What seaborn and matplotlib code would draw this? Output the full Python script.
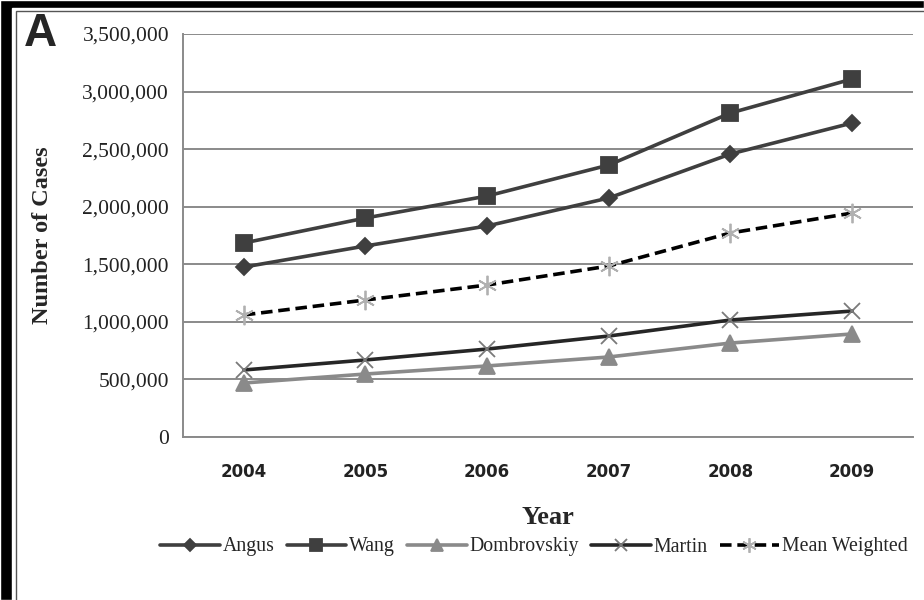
import numpy as np
import pandas as pd
import seaborn as sns
import matplotlib.pyplot as plt
from matplotlib.patches import Rectangle
from matplotlib.ticker import FuncFormatter

years = ["2004", "2005", "2006", "2007", "2008", "2009"]
angus = [1476000, 1659000, 1833000, 2076000, 2458000, 2727000]
wang = [1685000, 1902000, 2093000, 2362000, 2814000, 3109000]
dombrovskiy = [469000, 547000, 617000, 695000, 816000, 895000]
martin = [582000, 669000, 764000, 877000, 1016000, 1094000]
mean_weighted = [1060000, 1190000, 1320000, 1485000, 1772000, 1945000]

sns.set_style("white")
plt.rcParams["font.family"] = ["Liberation Serif", "DejaVu Serif"]

fig = plt.figure(figsize=(9.24, 6), dpi=100)

# black frame with a thin double line, like the scanned figure
fig.patches.append(Rectangle((0, 0), 1, 1, transform=fig.transFigure,
                             facecolor="black", zorder=-3))
fig.patches.append(Rectangle((12 / 924, 0), 1, 1 - 8 / 600, transform=fig.transFigure,
                             facecolor="white", zorder=-2))
fig.patches.append(Rectangle((15.5 / 924, -0.1), 1, 1 - 11 / 600 + 0.1,
                             transform=fig.transFigure, facecolor="none",
                             edgecolor="#555555", linewidth=1.0, zorder=-1))

ax = fig.add_axes([183 / 924, 1 - 437 / 600, (913 - 183) / 924, (437 - 34) / 600])
ax.set_facecolor("none")

series = [
    ("Angus", angus, "#3f3f3f", "D", 8, "-", "#3f3f3f"),
    ("Wang", wang, "#3f3f3f", "s", 11, "-", "#3f3f3f"),
    ("Dombrovskiy", dombrovskiy, "#8a8a8a", "^", 11, "-", "#8a8a8a"),
    ("Martin", martin, "#262626", "x", 12, "-", "#7a7a7a"),
    ("Mean Weighted", mean_weighted, "black", (6, 2, 0), 14, (0, (3.2, 1.6)), "#b0b0b0"),
]
for name, vals, col, mk, ms, ls, mcol in series:
    df = pd.DataFrame({"Year": years, "Cases": vals})
    sns.lineplot(data=df, x="Year", y="Cases", ax=ax, color=col, linewidth=2.6,
                 linestyle=ls, marker=mk, markersize=ms, markeredgecolor=mcol,
                 markerfacecolor=mcol, markeredgewidth=1.3, label=name)

ax.set_xlim(-0.5, len(years) - 0.5)
ax.set_ylim(0, 3500000)
ax.set_yticks(np.arange(0, 3500001, 500000))
ax.yaxis.set_major_formatter(FuncFormatter(lambda v, p: f"{int(v):,}"))
ax.grid(axis="y", color="#8a8a8a", linewidth=1.4)
ax.set_axisbelow(True)

for s in ["top", "right"]:
    ax.spines[s].set_visible(False)
for s in ["left", "bottom"]:
    ax.spines[s].set_color("#8a8a8a")
    ax.spines[s].set_linewidth(1.4)

ax.set_xticks(np.arange(-0.5, len(years)), minor=True)
ax.tick_params(axis="x", which="minor", length=6, width=1.4, color="#8a8a8a", direction="out")
ax.tick_params(axis="x", which="major", length=0, pad=19)
ax.tick_params(axis="y", length=6, width=1.4, color="#8a8a8a", direction="out",
               labelsize=15.5, pad=4)
for t in ax.get_xticklabels():
    t.set_fontfamily("DejaVu Sans")
    t.set_fontweight("bold")
    t.set_fontsize(12)
    t.set_color("#222222")
for t in ax.get_yticklabels():
    t.set_color("#222222")

ax.set_xlabel("Year", fontsize=19, fontweight="bold")
ax.set_ylabel("Number of Cases", fontsize=17.5, fontweight="bold")
ax.xaxis.set_label_coords(0.5, -0.2)
ax.yaxis.set_label_coords(-0.192, 0.501)
ax.xaxis.label.set_va("center")
ax.yaxis.label.set_va("center")

ax.legend_.remove()
handles, labels = ax.get_legend_handles_labels()
fig.legend(handles, labels, loc="center", bbox_to_anchor=(0.578, 1 - 547 / 600), ncol=5,
           frameon=False, fontsize=14.3, handlelength=3.0, handletextpad=0.15,
           columnspacing=0.6, markerscale=0.75)

fig.text(24 / 924, 1 - 34 / 600, "A", fontsize=33, fontweight="bold",
         family="Liberation Sans", va="center", ha="left")

fig.savefig("out.png", dpi=100)
